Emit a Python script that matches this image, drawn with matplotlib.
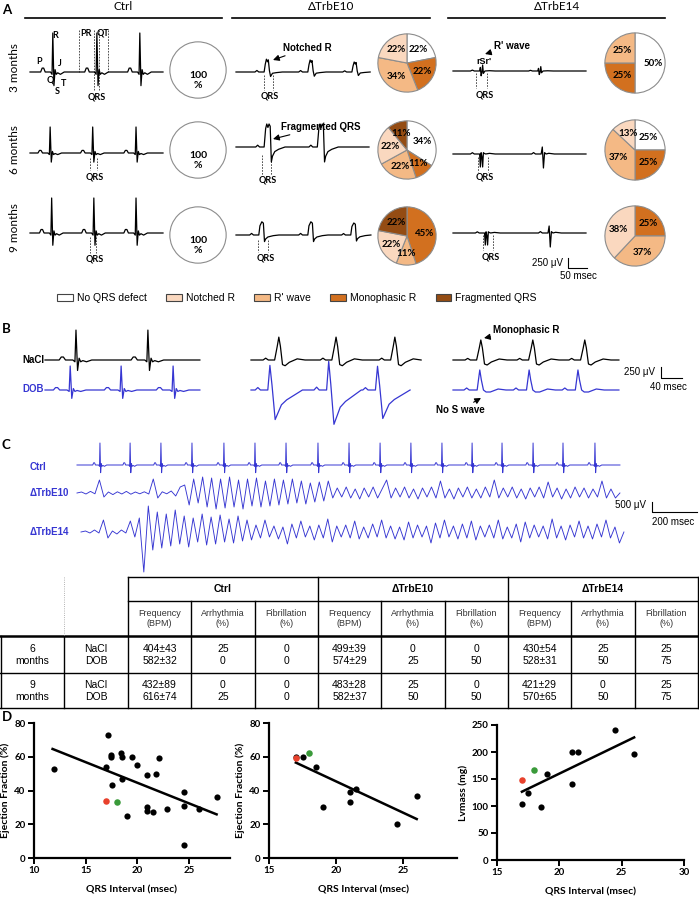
import numpy as np
import matplotlib.pyplot as plt
from matplotlib.patches import Patch

plt.rcParams['font.family'] = ['Lato', 'DejaVu Sans']

W, H = 699, 897
BLUE = '#3636d2'
ARIAL = ['Liberation Sans', 'DejaVu Sans']
NARROW = ['Liberation Sans Narrow', 'Liberation Sans', 'DejaVu Sans']

# ---------------- data ----------------
GROUPS = ['Ctrl', 'ΔTrbE10', 'ΔTrbE14']
AGES_A = ['3 months', '6 months', '9 months']

# QRS defect categories (pie charts, % of mice)
CATS = ['No QRS defect', 'Notched R', "R' wave", 'Monophasic R', 'Fragmented QRS']
CAT_COLORS = ['#ffffff', '#fad8bf', '#f4b985', '#d2701f', '#944c13']
PIE_CTRL = [[100], [100], [100]]
PIE_CTRL_CAT = [[0], [0], [0]]
PIE_E10 = [[22, 22, 34, 22], [34, 11, 22, 22, 11], [45, 11, 22, 22]]
PIE_E10_CAT = [[0, 3, 2, 1], [0, 3, 2, 1, 4], [3, 2, 1, 4]]
PIE_E14 = [[50, 25, 25], [25, 25, 37, 13], [25, 37, 38]]
PIE_E14_CAT = [[0, 3, 2], [0, 3, 2, 1], [3, 2, 1]]

# ECG beat shapes: ms from R peak, amplitude relative to R
SHAPES = {
    'normal': ([-32, -28, -24, -20, -6, -2, 0, 3, 6, 9, 13, 20, 30, 44],
               [0, .10, .10, 0, 0, -.06, 1, -.35, .06, -.06, -.02, -.06, 0, 0]),
    'notched': ([-32, -27, -22, -8, -5, -2, 1, 3, 6, 9, 14, 24, 40],
                [0, .12, 0, 0, .6, 1, .8, .95, .1, -.35, -.1, -.05, 0]),
    'frag': ([-32, -27, -22, -10, -6, -3, 0, 3, 6, 9, 12, 18, 28, 45],
             [0, .08, 0, 0, .8, 1, .85, 1, .9, -.65, -.4, -.2, -.1, 0]),
    'mono': ([-32, -27, -22, -8, -5, 0, 4, 7, 10, 16, 30, 45],
             [0, .12, 0, 0, .7, 1, .9, -.5, -.3, -.15, -.05, 0]),
    'rsr': ([-30, -25, -20, -6, -4, -2, 0, 2, 4, 8, 20, 35],
            [0, .15, 0, 0, .6, -.8, -.3, 1, -.4, 0, .05, 0]),
    'w': ([-30, -25, -20, -6, -4, -2, 0, 2, 4, 6, 10, 20, 35],
          [0, .1, 0, 0, -1, .1, -.2, -1, .1, .05, 0, .05, 0]),
    'bi': ([-30, -25, -20, -5, -2, 1, 4, 8, 15, 30],
           [0, .1, 0, 0, .5, -1, .1, 0, .05, 0]),
    'broad': ([-30, -25, -20, -8, -3, 0, 3, 7, 12, 20, 35, 50],
              [0, .08, 0, 0, .6, 1, .6, -.2, -.25, -.1, .05, 0]),
    'deep': ([-30, -25, -20, -6, -2, 2, 8, 14, 20, 30, 45, 60],
             [0, .1, 0, 0, 1, .2, -1.2, -.9, -.6, -.4, -.2, 0]),
    'nos': ([-30, -25, -20, -5, -2, 0, 3, 7, 12, 20, 35, 50],
            [0, .1, 0, 0, .6, 1, .5, 0, -.1, -.1, .05, 0]),
}

# panel A traces (beat times ms, amplitude uV)
A_CTRL_BEATS = [[60, 176, 289], [53, 165, 279], [57, 168, 279]]
A_CTRL_SHAPE = [['normal'] * 3, ['normal'] * 3, ['normal'] * 3]
A_CTRL_AMP = [[975, 975, 975], [650, 650, 650], [875, 875, 875]]
A_E10_BEATS = [[82, 197, 313], [84, 224], [68, 197, 310]]
A_E10_SHAPE = [['notched'] * 3, ['frag'] * 2, ['mono'] * 3]
A_E10_AMP = [[320, 300, 250], [575, 575], [330, 330, 300]]
A_E14_BEATS = [[76, 229], [76, 237], [89, 255]]
A_E14_SHAPE = [['rsr', 'rsr'], ['w', 'bi'], ['w', 'bi']]
A_E14_AMP = [[150, 110], [325, 350], [300, 350]]

# panel B traces
B_NACL_BEATS = [[59, 196], [53, 162, 274], [53, 152, 251]]
B_NACL_SHAPE = [['normal'] * 2, ['broad'] * 3, ['broad'] * 3]
B_NACL_AMP = [[680, 680], [520, 520, 520], [455, 455, 455]]
B_DOB_BEATS = [[48, 145, 244], [38, 150, 243], [51, 145, 238]]
B_DOB_SHAPE = [['normal'] * 3, ['deep'] * 3, ['nos'] * 3]
B_DOB_AMP = [[545, 545, 545], [560, 650, 540], [455, 455, 455]]

# panel C traces
C_CTRL_BEATS = [102, 236, 373, 511, 653, 791, 929, 1071, 1209, 1347, 1484, 1622,
                1756, 1889, 2027, 2160, 2302]
C_CTRL_AMP = 1100
C_E10 = [0, 50, -50, 80, -40, 650, -200, 50, -80, 60, -50, 80, -60, 50, -40, 60, -50, 700,
         -250, 60, -40, 100, -150, 300,
         400, -600, 700, -500, 800, -700, 750, -800, 700, -750, 800, -700, 650, -800, 700,
         -650, 750, -700, 600, -650, 700, -600, 650, -550, 700, -500, 600, -550, 500, -450,
         550, -400,
         600, -250, 250, -200, 300, -250, 200, -300, 250, -200, 300, -250, 200,
         650, -250, 250, -200, 300, -250, 200, -300, 250, -200, 300, -250,
         600, -250, 200, -300, 250, -200, 300, -250, 200, -250, 300, -200,
         650, -250, 250, -200, 300, -250, 200, -300, 250, -200, 300, -250,
         550, -200, 250, -300, 200, -250, 300, -200, 250, -250, 200, -200,
         600, -250, 200, -250, 0]
C_E14 = [0, 50, -50, 100, -50, 600, -300, 50, -100, 100, -50, 550, -250,
         700, -2000, 1300, -900, 1000, -800, 900, -700, 1100, -600, 800, -750, 700, -500,
         900, -650, 750, -600, 850, -500, 650, -550, 800, -450, 600, -400,
         350, -300, 600, -250, 300, -350, 250, -600, 400, -300, 550, -250, 300, -400, 350,
         -300, 650, -500, 300, -250, 350, -300, 550, -350, 250, -300, 400, -250, 600, -300,
         300, -350, 250, -400, 500, -300, 350, -250, 300, -550, 450, -300, 600, -250, 300,
         -350, 400, -300, 550, -400, 300, -250, 350, -300, 600, -350, 250, -300, 400, -500,
         500, -300, 350, -250, 300, -350, 650, -300, 300, -400, 350, -250, 550, -300, 300,
         -350, 400, -250, 600, -300, 250, -550, 0]

# table
SUBHEAD = ['Frequency\n(BPM)', 'Arrhythmia\n(%)', 'Fibrillation\n(%)']
AGES_T = ['6\nmonths', '9\nmonths']
TREAT = 'NaCl\nDOB'
TABLE_VALUES = [
    ['404±43\n582±32', '25\n0', '0\n0', '499±39\n574±29', '0\n25', '0\n50',
     '430±54\n528±31', '25\n50', '25\n75'],
    ['432±89\n616±74', '0\n25', '0\n0', '483±28\n582±37', '25\n50', '0\n50',
     '421±29\n570±65', '0\n50', '25\n75'],
]

# panel D scatter (QRS interval msec vs EF % / LV mass mg)
D1_X = [11.9, 17.2, 17.0, 17.5, 17.5, 18.4, 18.5, 19.5, 20.0, 18.5, 17.6, 22.1, 21.0,
        21.8, 21.0, 21.0, 21.5, 22.9, 24.5, 24.5, 24.5, 26.0, 27.7, 19.0]
D1_Y = [53, 73, 54, 60, 61, 62, 60, 60, 55, 47, 43, 59, 49, 50, 30, 28, 27, 29, 39, 31,
        8, 29, 36, 25]
D1_RED_X, D1_RED_Y = [17.0], [34]
D1_GREEN_X, D1_GREEN_Y = [18.0], [33]
D2_X = [17.0, 17.5, 18.5, 19.0, 21.0, 21.0, 21.5, 24.5, 26.0]
D2_Y = [60, 60, 54, 30, 39, 33, 41, 20, 37]
D2_RED_X, D2_RED_Y = [17.0], [59]
D2_GREEN_X, D2_GREEN_Y = [18.0], [62]
D3_X = [17.0, 17.5, 18.5, 19.0, 21.0, 21.5, 21.0, 26.0, 24.5]
D3_Y = [103, 125, 99, 159, 200, 200, 140, 196, 240]
D3_RED_X, D3_RED_Y = [17.0], [148]
D3_GREEN_X, D3_GREEN_Y = [18.0], [166]
FITS = [(-2.437, 93.37, 11.8, 27.7), (-3.716, 119.7, 17.0, 26.0), (11.17, -63.43, 17.0, 26.0)]
EQ_TEXT = [('Y = -2,437*X + 93,37', 'R² = 0,2828; p < 0,005'),
           ('Y = -0,03716*X + 1,197', 'R² = 0,5656; p < 0,01'),
           ('Y = 11,17*X \u2013 63,43', 'R² = 0,5833; p < 0,01')]

# ---------------- figure ----------------
fig = plt.figure(figsize=(W / 100, H / 100), dpi=100)
ov = fig.add_axes([0, 0, 1, 1])
ov.set_xlim(0, W)
ov.set_ylim(H, 0)
ov.axis('off')


def txt(x, y, s, size=7, **kw):
    kw.setdefault('ha', 'center')
    kw.setdefault('va', 'center')
    ov.text(x, y, s, fontsize=size, **kw)


def build(beats, shapes, amps, span):
    xs, ys = [0.0], [0.0]
    for tb, sh, a in zip(beats, shapes, amps):
        tt, vv = SHAPES[sh]
        xs += [tb + t for t in tt]
        ys += [a * v for v in vv]
    xs.append(max(span, xs[-1]))
    ys.append(0.0)
    return xs, ys


def trace(x0, base, span, pxms, pxuv, xs, ys, color='k', lw=0.9):
    ax = fig.add_axes([x0 / W, 1 - (base + 1000 * pxuv) / H, span * pxms / W, 2000 * pxuv / H])
    ax.axis('off')
    ax.set_xlim(0, span)
    ax.set_ylim(-1000, 1000)
    ax.plot(xs, ys, color=color, lw=lw, clip_on=False)
    return ax


def dashed(x, y0, y1):
    ov.plot([x, x], [y0, y1], color='#333333', lw=0.6, ls=(0, (2, 1.5)))


# ---- panel A ----
txt(2, 10, 'A', 9.5, fontweight='bold', ha='left')
for name, (x0, x1) in zip(GROUPS, [(25, 222), (232, 430), (448, 665)]):
    ov.plot([x0, x1], [18, 18], color='k', lw=1.2)
    txt((x0 + x1) / 2, 7, name, 8.5)
for lab, y in zip(AGES_A, [68, 150, 228]):
    txt(14, y, lab, 8.5, rotation=90)

PXMS_A, PXUV_A = 0.38, 0.04
base_ctrl = [72, 153, 233]
base_e10 = [72, 147, 235]
base_e14 = [71, 154, 233]
for r in range(3):
    xs, ys = build(A_CTRL_BEATS[r], A_CTRL_SHAPE[r], A_CTRL_AMP[r], 350)
    trace(30, base_ctrl[r], 350, PXMS_A, PXUV_A, xs, ys)
    xs, ys = build(A_E10_BEATS[r], A_E10_SHAPE[r], A_E10_AMP[r], 350)
    trace(236, base_e10[r], 350, PXMS_A, PXUV_A, xs, ys)
    xs, ys = build(A_E14_BEATS[r], A_E14_SHAPE[r], A_E14_AMP[r], 350)
    axA = trace(453, base_e14[r], 350, PXMS_A, PXUV_A, xs, ys)

# scale bar A (250 uV / 50 msec) in data units of last trace
axA.plot([303, 303, 353], [-625, -875, -875], color='k', lw=0.8, clip_on=False)
axA.text(289, -750, '250 μV', fontsize=7, ha='right', va='center', family=ARIAL)
axA.text(329, -1075, '50 msec', fontsize=7, ha='center', va='center', family=ARIAL)

# ECG wave labels
for s, x, y in [('P', 39, 62), ('R', 55, 36), ('J', 60, 64), ('Q', 50, 80), ('S', 57, 92),
                ('T', 64, 83), ('PR', 86, 33), ('QT', 103, 33)]:
    txt(x, y, s, 6.5, fontweight='bold')
dashed(79, 30, 72)
dashed(108, 30, 72)
for (xa, xb), (y0, y1), (qx, qy) in [
        ((94, 99), (30, 90), (97, 97)), ((90, 97), (158, 170), (95, 177)),
        ((90, 96), (237, 253), (95, 259)), ((264, 273), (75, 90), (270, 96)),
        ((262, 271), (155, 175), (268, 180)), ((258, 268), (240, 252), (266, 258)),
        ((476, 487), (73, 88), (485, 95)), ((478, 488), (157, 172), (485, 177)),
        ((483, 493), (235, 250), (491, 257))]:
    dashed(xa, y0, y1)
    dashed(xb, y0, y1)
    txt(qx, qy, 'QRS', 6.5, fontweight='bold')

arrow = dict(arrowstyle='-|>', color='k', lw=0.8, mutation_scale=9, shrinkA=0, shrinkB=0)
ov.annotate('Notched R', xy=(273, 60), xytext=(283, 48), fontsize=7, fontweight='bold',
            family=NARROW, va='center', arrowprops=arrow)
ov.annotate('Fragmented QRS', xy=(273, 139), xytext=(281, 127), fontsize=7,
            fontweight='bold', family=NARROW, va='center', arrowprops=arrow)
ov.annotate("R' wave", xy=(485, 54), xytext=(494, 46), fontsize=7, fontweight='bold',
            family=NARROW, va='center', arrowprops=arrow)
txt(484, 61, "rSr'", 6.5, fontweight='bold', family=NARROW)

# pies
PIE_XC = [198, 407, 635]
PIE_YC = [[70, 150, 235], [63, 150, 236], [63, 150, 236]]
PIE_R = [28, 29, 30]
for g, (vals_all, cats_all) in enumerate([(PIE_CTRL, PIE_CTRL_CAT), (PIE_E10, PIE_E10_CAT),
                                          (PIE_E14, PIE_E14_CAT)]):
    for r in range(3):
        cx, cy, rad = PIE_XC[g], PIE_YC[g][r], PIE_R[g]
        pa = fig.add_axes([(cx - rad - 1) / W, 1 - (cy + rad + 1) / H,
                           (2 * rad + 2) / W, (2 * rad + 2) / H])
        if g == 0:
            fmt, pd, fs = (lambda p: f'{p:.0f}\n%'), 0.38, 7.5
        else:
            fmt, pd, fs = (lambda p: f'{p:.0f}%'), 0.6, 7
        pa.pie(vals_all[r], colors=[CAT_COLORS[c] for c in cats_all[r]], startangle=90,
               counterclock=False, autopct=fmt, pctdistance=pd,
               wedgeprops=dict(edgecolor='#8c8c8c', linewidth=0.8),
               textprops=dict(fontsize=fs, fontweight='bold'))
        pa.set_xlim(-1.03, 1.03)
        pa.set_ylim(-1.03, 1.03)

handles = [Patch(facecolor=c, edgecolor='#444444', lw=0.8) for c in CAT_COLORS]
fig.legend(handles, CATS, ncol=5, loc='center', bbox_to_anchor=(297 / W, 1 - 298 / H),
           frameon=False, prop={'family': ARIAL, 'size': 7.5}, handlelength=1.45,
           handleheight=0.75, handletextpad=0.4, columnspacing=1.9)

# ---- panel B ----
txt(2, 329, 'B', 9.5, fontweight='bold', ha='left')
txt(22, 360, 'NaCl', 7, fontweight='bold', ha='left', family=ARIAL)
txt(22, 389, 'DOB', 7, fontweight='bold', ha='left', family=ARIAL, color=BLUE)
PXMS_B, PXUV_B = 0.525, 0.044
B_X0 = [45, 251, 453]
B_SPAN = [295, 300, 316]
for k in range(3):
    xs, ys = build(B_NACL_BEATS[k], B_NACL_SHAPE[k], B_NACL_AMP[k], B_SPAN[k])
    trace(B_X0[k], 360, B_SPAN[k], PXMS_B, PXUV_B, xs, ys)
    xs, ys = build(B_DOB_BEATS[k], B_DOB_SHAPE[k], B_DOB_AMP[k], B_SPAN[k])
    axB = trace(B_X0[k], 390, B_SPAN[k], PXMS_B, PXUV_B, xs, ys, color=BLUE)
axB.plot([396, 396, 436], [523, 273, 273], color='k', lw=0.8, clip_on=False)
axB.text(385, 409, '250 μV', fontsize=7, ha='right', va='center', family=ARIAL)
axB.text(411, 68, '40 msec', fontsize=7, ha='center', va='center', family=ARIAL)
ov.annotate('Monophasic R', xy=(484, 338), xytext=(493, 330), fontsize=7, fontweight='bold',
            family=NARROW, va='center', arrowprops=arrow)
ov.annotate('No S wave', xy=(481, 398), xytext=(460, 410), fontsize=7, fontweight='bold',
            family=NARROW, va='center', ha='center', arrowprops=arrow)

# ---- panel C ----
txt(2, 445, 'C', 9.5, fontweight='bold', ha='left')
for lab, y in zip(GROUPS, [467, 493, 532]):
    txt(30, y, lab, 7, fontweight='bold', ha='left', family=ARIAL, color=BLUE)
PXMS_C, PXUV_C, SPAN_C = 0.225, 0.02, 2413
xs, ys = build(C_CTRL_BEATS, ['normal'] * len(C_CTRL_BEATS),
               [C_CTRL_AMP] * len(C_CTRL_BEATS), SPAN_C)
trace(77, 465, SPAN_C, PXMS_C, PXUV_C, xs, ys, color=BLUE, lw=0.7)
axC = trace(77, 493, SPAN_C, PXMS_C, PXUV_C, np.linspace(0, SPAN_C, len(C_E10)), C_E10,
            color=BLUE, lw=0.65)
trace(81, 532, SPAN_C, PXMS_C, PXUV_C, np.linspace(0, SPAN_C, len(C_E14)), C_E14,
      color=BLUE, lw=0.65)
axC.plot([2556, 2556, 2756], [-450, -950, -950], color='k', lw=0.8, clip_on=False)
axC.text(2529, -600, '500 μV', fontsize=7, ha='right', va='center', family=ARIAL)
axC.text(2649, -1450, '200 msec', fontsize=7, ha='center', va='center', family=ARIAL)

# ---- table ----
TX0, TX1 = 128, 698
cw = (TX1 - TX0) / 9
ry = [577, 601, 636, 673, 708]
lk = dict(color='k', lw=1.0)
ov.plot([TX0, TX1], [ry[0], ry[0]], **lk)
ov.plot([TX0, TX1], [ry[1], ry[1]], **lk)
ov.plot([0, TX1], [ry[2], ry[2]], color='k', lw=1.8)
ov.plot([0, TX1], [ry[3], ry[3]], **lk)
ov.plot([0, TX1], [ry[4], ry[4]], **lk)
for i in range(10):
    x = TX0 + i * cw
    ov.plot([x, x], [ry[0] if i % 3 == 0 else ry[1], ry[4]], **lk)
ov.plot([0.5, 0.5], [ry[2], ry[4]], **lk)
ov.plot([64, 64], [ry[2], ry[4]], **lk)
ov.plot([64, 64], [ry[0], ry[2]], color='#999999', lw=0.6, ls=':')
for j, g in enumerate(GROUPS):
    txt(TX0 + (3 * j + 1.5) * cw, (ry[0] + ry[1]) / 2, g, 7.5, fontweight='bold', family=ARIAL)
for i in range(9):
    txt(TX0 + (i + 0.5) * cw, (ry[1] + ry[2]) / 2, SUBHEAD[i % 3], 6.5, family=NARROW,
        color='#333333', linespacing=1.15)
for r in range(2):
    yc = (ry[2 + r] + ry[3 + r]) / 2
    txt(32, yc, AGES_T[r], 7.5, family=ARIAL, linespacing=1.25)
    txt(96, yc, TREAT, 7.5, family=ARIAL, linespacing=1.25)
    for i in range(9):
        txt(TX0 + (i + 0.5) * cw, yc, TABLE_VALUES[r][i], 7.5, family=ARIAL, linespacing=1.25)

# ---- panel D ----
txt(2, 717, 'D', 9.5, fontweight='bold', ha='left')
d_axes = [fig.add_axes([34 / W, 1 - 858 / H, 196 / W, 135 / H]),
          fig.add_axes([269 / W, 1 - 858 / H, 188 / W, 135 / H]),
          fig.add_axes([497 / W, 1 - 860 / H, 187 / W, 135 / H])]
d_data = [(D1_X, D1_Y, D1_RED_X, D1_RED_Y, D1_GREEN_X, D1_GREEN_Y),
          (D2_X, D2_Y, D2_RED_X, D2_RED_Y, D2_GREEN_X, D2_GREEN_Y),
          (D3_X, D3_Y, D3_RED_X, D3_RED_Y, D3_GREEN_X, D3_GREEN_Y)]
d_xlim = [(10, 29), (15, 29), (15, 30)]
d_xticks = [[10, 15, 20, 25], [15, 20, 25], [15, 20, 25, 30]]
d_ylim = [(0, 80), (0, 80), (0, 250)]
d_yticks = [[0, 20, 40, 60, 80], [0, 20, 40, 60, 80], [0, 50, 100, 150, 200, 250]]
d_ylab = ['Ejection Fraction (%)', 'Ejection Fraction (%)', 'Lvmass (mg)']
for k, ax in enumerate(d_axes):
    x, y, rx, ry_, gx, gy = d_data[k]
    ax.scatter(x, y, s=20, color='k', lw=0, zorder=3, clip_on=False)
    ax.scatter(rx, ry_, s=22, color='#e8412c', lw=0, zorder=4, clip_on=False)
    ax.scatter(gx, gy, s=22, color='#3a9a3a', lw=0, zorder=4, clip_on=False)
    m, b, f0, f1 = FITS[k]
    fx = np.array([f0, f1])
    ax.plot(fx, np.polyval([m, b], fx), color='k', lw=1.8)
    ax.set_xlim(*d_xlim[k])
    ax.set_ylim(*d_ylim[k])
    ax.set_xticks(d_xticks[k])
    ax.set_yticks(d_yticks[k])
    for sp in ['top', 'right']:
        ax.spines[sp].set_visible(False)
    for sp in ['left', 'bottom']:
        ax.spines[sp].set_linewidth(1.6)
    ax.tick_params(width=1.4, length=4, labelsize=7, pad=2)
    plt.setp(ax.get_xticklabels() + ax.get_yticklabels(), fontweight='bold')
    ax.set_xlabel('QRS Interval (msec)', fontsize=7.5, fontweight='bold', labelpad=7)
    ax.set_ylabel(d_ylab[k], fontsize=7.5, fontweight='bold', labelpad=3)

for (l1, l2), (x, y1, y2) in zip(EQ_TEXT, [(178, 728, 741), (384, 733, 745), (623, 803, 815)]):
    txt(x, y1, l1, 6.5)
    txt(x, y2, l2, 6.5)

fig.savefig('out.png', dpi=100)
